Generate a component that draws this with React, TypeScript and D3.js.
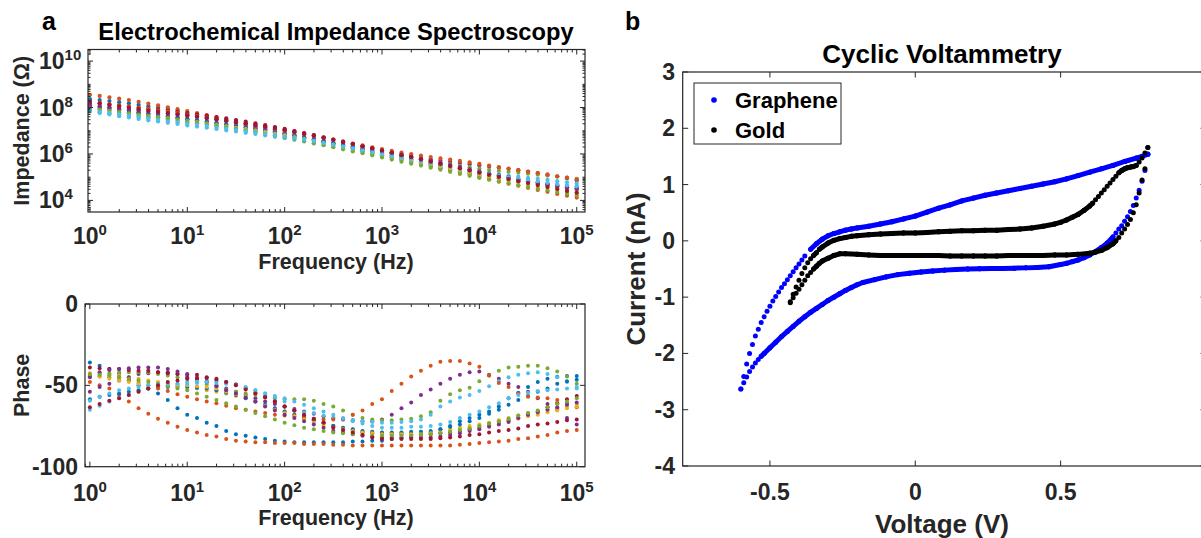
import React from 'react'
import * as d3 from 'd3'

const FONT = '"Liberation Sans", Arial, Helvetica, sans-serif'
const AXIS = '#262626'
const MATLAB = ['#0072BD', '#D95319', '#EDB120', '#7E2F8E', '#77AC30', '#4DBEEE', '#A2142F']

// ---------- EIS data ----------
const frequency = [
  1, 1.259, 1.585, 1.995, 2.512, 3.162, 3.981, 5.012, 6.31, 7.943,
  10, 12.59, 15.85, 19.95, 25.12, 31.62, 39.81, 50.12, 63.1, 79.43,
  100, 125.9, 158.5, 199.5, 251.2, 316.2, 398.1, 501.2, 631, 794.3,
  1000, 1259, 1585, 1995, 2512, 3162, 3981, 5012, 6310, 7943,
  10000, 12590, 15850, 19950, 25120, 31620, 39810, 50120, 63100, 79430, 100000,
]

// log10 |Z| (ohm)
const impedance1 = [8.36, 8.32, 8.28, 8.23, 8.18, 8.12, 8.06, 8.00, 7.93, 7.85, 7.77, 7.69, 7.60, 7.51, 7.42, 7.33, 7.24, 7.15, 7.06, 6.97, 6.88, 6.79, 6.69, 6.60, 6.50, 6.41, 6.31, 6.22, 6.12, 6.03, 5.94, 5.85, 5.76, 5.67, 5.58, 5.49, 5.41, 5.33, 5.25, 5.17, 5.09, 5.02, 4.95, 4.88, 4.82, 4.76, 4.71, 4.66, 4.61, 4.56, 4.51]
const impedance2 = [8.55, 8.50, 8.44, 8.38, 8.32, 8.25, 8.17, 8.09, 8.01, 7.93, 7.85, 7.76, 7.67, 7.58, 7.49, 7.39, 7.30, 7.20, 7.11, 7.01, 6.92, 6.82, 6.73, 6.63, 6.53, 6.44, 6.34, 6.25, 6.15, 6.05, 5.96, 5.86, 5.77, 5.67, 5.57, 5.48, 5.38, 5.29, 5.19, 5.10, 5.00, 4.91, 4.81, 4.72, 4.63, 4.54, 4.45, 4.37, 4.28, 4.20, 4.12]
const impedance3 = [8.05, 8.00, 7.95, 7.90, 7.85, 7.80, 7.74, 7.69, 7.64, 7.58, 7.53, 7.47, 7.41, 7.35, 7.29, 7.22, 7.16, 7.09, 7.02, 6.95, 6.88, 6.80, 6.72, 6.64, 6.56, 6.48, 6.39, 6.31, 6.23, 6.14, 6.06, 5.97, 5.88, 5.79, 5.71, 5.62, 5.53, 5.45, 5.36, 5.28, 5.19, 5.11, 5.03, 4.95, 4.87, 4.80, 4.72, 4.65, 4.57, 4.50, 4.43]
const impedance4 = [8.00, 7.95, 7.90, 7.85, 7.80, 7.75, 7.70, 7.65, 7.60, 7.55, 7.50, 7.45, 7.39, 7.33, 7.27, 7.21, 7.15, 7.09, 7.02, 6.95, 6.88, 6.80, 6.72, 6.64, 6.56, 6.48, 6.40, 6.32, 6.24, 6.17, 6.10, 6.03, 5.96, 5.89, 5.83, 5.77, 5.71, 5.66, 5.61, 5.56, 5.51, 5.46, 5.41, 5.36, 5.30, 5.24, 5.18, 5.11, 5.03, 4.95, 4.86]
const impedance5 = [7.85, 7.80, 7.75, 7.70, 7.66, 7.61, 7.56, 7.52, 7.47, 7.42, 7.37, 7.32, 7.27, 7.21, 7.16, 7.10, 7.04, 6.98, 6.92, 6.86, 6.80, 6.73, 6.67, 6.60, 6.53, 6.46, 6.39, 6.31, 6.24, 6.16, 6.08, 6.00, 5.92, 5.84, 5.77, 5.69, 5.62, 5.55, 5.49, 5.43, 5.37, 5.32, 5.27, 5.23, 5.19, 5.15, 5.11, 5.07, 5.03, 4.98, 4.93]
const impedance6 = [7.83, 7.76, 7.70, 7.63, 7.57, 7.51, 7.45, 7.40, 7.34, 7.29, 7.23, 7.18, 7.13, 7.08, 7.02, 6.97, 6.91, 6.86, 6.80, 6.74, 6.68, 6.61, 6.54, 6.46, 6.39, 6.31, 6.23, 6.16, 6.08, 6.00, 5.93, 5.85, 5.77, 5.70, 5.62, 5.55, 5.48, 5.42, 5.35, 5.29, 5.23, 5.17, 5.12, 5.07, 5.02, 4.97, 4.93, 4.88, 4.83, 4.78, 4.73]
const impedance7 = [8.20, 8.16, 8.12, 8.08, 8.04, 8.00, 7.95, 7.91, 7.86, 7.81, 7.76, 7.71, 7.65, 7.59, 7.53, 7.46, 7.39, 7.32, 7.24, 7.16, 7.08, 6.99, 6.90, 6.81, 6.72, 6.62, 6.53, 6.44, 6.34, 6.25, 6.15, 6.06, 5.96, 5.87, 5.77, 5.68, 5.58, 5.49, 5.40, 5.31, 5.22, 5.13, 5.05, 4.97, 4.89, 4.82, 4.75, 4.68, 4.62, 4.56, 4.50]
const impedance8 = [8.10, 8.04, 7.98, 7.92, 7.86, 7.80, 7.74, 7.68, 7.62, 7.56, 7.50, 7.44, 7.38, 7.32, 7.26, 7.20, 7.13, 7.06, 6.99, 6.92, 6.85, 6.77, 6.69, 6.61, 6.53, 6.45, 6.36, 6.28, 6.19, 6.11, 6.03, 5.94, 5.85, 5.77, 5.68, 5.60, 5.52, 5.44, 5.36, 5.28, 5.20, 5.12, 5.05, 4.98, 4.91, 4.84, 4.78, 4.72, 4.67, 4.62, 4.58]
const impedance9 = [8.25, 8.20, 8.15, 8.09, 8.04, 7.98, 7.93, 7.87, 7.82, 7.76, 7.70, 7.64, 7.57, 7.50, 7.43, 7.36, 7.29, 7.22, 7.15, 7.07, 7.00, 6.92, 6.85, 6.77, 6.69, 6.61, 6.53, 6.45, 6.37, 6.29, 6.21, 6.13, 6.06, 5.99, 5.93, 5.87, 5.81, 5.76, 5.70, 5.64, 5.57, 5.50, 5.43, 5.37, 5.30, 5.23, 5.17, 5.11, 5.04, 4.98, 4.91]
const impedance10 = [7.95, 7.90, 7.85, 7.79, 7.74, 7.69, 7.63, 7.58, 7.53, 7.47, 7.42, 7.37, 7.31, 7.25, 7.19, 7.13, 7.07, 7.01, 6.94, 6.87, 6.80, 6.72, 6.64, 6.56, 6.47, 6.39, 6.31, 6.22, 6.14, 6.05, 5.97, 5.88, 5.79, 5.71, 5.62, 5.53, 5.45, 5.36, 5.27, 5.19, 5.10, 5.02, 4.93, 4.85, 4.77, 4.70, 4.62, 4.55, 4.48, 4.41, 4.34]
const impedance11 = [8.10, 8.05, 8.01, 7.96, 7.92, 7.87, 7.83, 7.78, 7.74, 7.69, 7.65, 7.60, 7.54, 7.48, 7.42, 7.36, 7.30, 7.23, 7.16, 7.09, 7.02, 6.94, 6.86, 6.77, 6.69, 6.60, 6.51, 6.42, 6.33, 6.24, 6.15, 6.06, 5.97, 5.88, 5.79, 5.70, 5.61, 5.52, 5.43, 5.34, 5.25, 5.16, 5.08, 5.00, 4.92, 4.84, 4.77, 4.70, 4.63, 4.56, 4.50]
const impedance12 = [7.95, 7.90, 7.85, 7.79, 7.74, 7.69, 7.63, 7.58, 7.53, 7.47, 7.42, 7.36, 7.30, 7.23, 7.16, 7.09, 7.02, 6.95, 6.87, 6.80, 6.72, 6.64, 6.55, 6.46, 6.38, 6.29, 6.20, 6.11, 6.03, 5.94, 5.85, 5.76, 5.67, 5.58, 5.50, 5.41, 5.32, 5.23, 5.14, 5.06, 4.97, 4.89, 4.81, 4.73, 4.65, 4.58, 4.50, 4.43, 4.36, 4.29, 4.22]
const impedance13 = [7.90, 7.83, 7.77, 7.71, 7.65, 7.59, 7.53, 7.47, 7.41, 7.36, 7.30, 7.25, 7.20, 7.14, 7.09, 7.03, 6.98, 6.92, 6.87, 6.81, 6.75, 6.69, 6.62, 6.55, 6.48, 6.40, 6.32, 6.24, 6.16, 6.08, 6.00, 5.92, 5.84, 5.76, 5.68, 5.60, 5.52, 5.44, 5.36, 5.28, 5.20, 5.13, 5.06, 4.99, 4.93, 4.86, 4.80, 4.75, 4.70, 4.65, 4.60]
const impedance14 = [8.25, 8.18, 8.12, 8.05, 7.99, 7.93, 7.87, 7.82, 7.76, 7.71, 7.66, 7.61, 7.55, 7.50, 7.44, 7.38, 7.32, 7.26, 7.19, 7.12, 7.05, 6.97, 6.88, 6.80, 6.71, 6.62, 6.52, 6.43, 6.33, 6.24, 6.14, 6.05, 5.95, 5.86, 5.76, 5.67, 5.57, 5.48, 5.38, 5.29, 5.19, 5.10, 5.01, 4.92, 4.83, 4.75, 4.66, 4.58, 4.49, 4.41, 4.33]

// phase (degrees)
const phase1 = [-36, -38, -40, -43, -47, -50, -52, -55, -59, -64, -68, -70, -73, -75, -78, -80, -81, -82, -83, -84, -84.5, -85, -85, -85, -85, -85, -85, -84.5, -84.5, -84, -84, -83, -82.5, -81.5, -80.5, -79, -77, -75, -72, -70, -68, -66, -63, -58, -54.5, -51, -48, -46, -44.7, -44.3, -44.3]
const phase2 = [-48, -50, -52, -56, -60, -64, -67.5, -70.5, -73, -75.5, -77.5, -79, -80.5, -81.5, -83, -84, -84.5, -85, -85, -85.5, -85.5, -85.5, -86, -86, -86, -86.5, -86.5, -87, -87, -87, -87, -87, -87, -87, -87, -87, -87, -87, -86.5, -86, -85.5, -85, -84.5, -84, -83, -82.5, -81.5, -80.5, -79, -78, -77.5]
const phase3 = [-42.5, -43, -43.5, -44, -45, -46, -47, -48, -49, -50, -51, -52, -53, -54, -55, -56.5, -58, -60, -62, -64, -66, -68, -70, -71.5, -73, -75, -76, -77, -78, -78.5, -79, -79, -79, -79, -78.5, -78.5, -78, -77, -76, -75, -74, -73, -71.5, -70, -68.5, -67, -66, -65, -64, -63, -62]
const phase4 = [-54, -51, -49, -47, -45, -43, -42.5, -42, -42, -43, -45, -46.5, -48, -50, -52, -54, -56, -58, -60, -61.5, -63, -64.5, -66, -67.5, -69, -70, -71, -71.5, -72, -72, -71, -68, -64, -60.5, -56, -52.5, -49, -46, -43.5, -42, -41.5, -43.5, -46, -49, -51, -54, -58, -61.5, -65, -70, -74]
const phase5 = [-44, -43, -42.5, -42, -42, -42, -42, -43, -44, -45, -46, -48, -49.5, -51, -52.5, -54, -55, -56, -57, -58, -58.5, -58.5, -58.5, -59.5, -61.5, -63, -65.5, -68, -70, -71, -71.5, -71.5, -71, -70.5, -69, -66.5, -59.5, -55.5, -53, -51.5, -47.5, -44, -41, -39, -38.5, -38, -38, -39.5, -41.5, -44.5, -49]
const phase6 = [-65, -62.5, -60, -58, -56, -54, -52, -51, -50, -49, -48, -47.5, -47, -47.5, -48.5, -49.5, -51, -53, -55, -57.5, -60, -65.5, -66.5, -67, -68.5, -70, -71, -71.5, -72, -72.5, -73, -73, -72.5, -72, -71, -68, -63, -60, -57.5, -56, -53.5, -50.5, -47.5, -45, -43.5, -42.5, -42, -43, -45, -48, -51]
const phase7 = [-39, -39.5, -40, -40, -40.5, -41, -41, -42, -42.5, -43, -43.5, -43.5, -45, -46.5, -48, -49.5, -52, -54.5, -57, -60, -63, -65.5, -68.5, -71, -73, -75, -77, -78, -79, -79.5, -80, -80, -80, -80, -80, -80, -79.5, -79, -78, -77, -76, -74.5, -73, -71.5, -70, -68, -66, -63.5, -61, -58.5, -56.5]
const phase8 = [-58.5, -57, -56, -55, -54, -53, -52, -51.5, -51, -51, -51, -51.5, -52, -53, -54.5, -56, -58, -60, -62, -64, -66, -68, -70, -71.5, -73, -75, -76, -77, -78, -78.5, -79, -79, -79, -78.5, -78.5, -78, -77, -75.5, -74, -72, -70, -67.5, -65, -62, -59, -56.5, -54, -52, -49, -47.5, -46.5]
const phase9 = [-44.5, -44.5, -45, -45, -47, -48.5, -50, -52, -53.5, -55.5, -57, -58.5, -60, -61, -62.5, -64, -65, -66, -67, -68, -68.5, -69, -69.5, -70.5, -71, -71, -70.5, -68, -65.5, -61.5, -58.5, -53.5, -49, -44.5, -41, -38, -35.5, -35, -35, -36.5, -38.5, -44, -48.5, -51, -55, -57, -57.5, -58, -59, -61, -63.5]
const phase10 = [-43, -44.5, -46, -47, -48, -49, -50, -50, -50, -50, -50, -50.5, -51, -52, -54, -55.5, -57, -60, -62.5, -65, -67, -69, -71, -73, -74.5, -76, -77, -78, -79, -79.5, -80, -80, -80, -80, -80, -79.5, -79, -78, -77, -76, -75, -74, -73, -72, -70.5, -69, -68, -66.5, -65.5, -64, -63]
const phase11 = [-45, -42, -40.5, -40, -39.5, -39, -39, -39, -40, -41.5, -43, -45.5, -48, -50.5, -53, -55, -57.5, -60, -63, -65.5, -68, -70, -72, -74, -76, -78, -79, -80, -81, -81.5, -82, -82, -82, -82, -82, -82, -81.5, -80.5, -79.5, -78, -77, -75.5, -74, -72.5, -70, -68, -66.5, -65, -63.5, -62, -60.5]
const phase12 = [-43, -43.5, -44, -45, -46, -47, -48, -49, -50.5, -52, -53, -55, -57, -59, -61, -63, -65, -67, -69, -71, -73, -74.5, -76, -77, -78, -79, -79.5, -80, -80.5, -81, -81, -81, -81, -81, -80.5, -80, -79.5, -78.5, -77.5, -76.5, -75, -73.5, -72, -70.5, -68.5, -67, -65.5, -63.5, -61.5, -60, -58]
const phase13 = [-59.5, -57, -55, -53, -52, -51, -50, -49.5, -49, -49, -49, -48.5, -48, -48.5, -49, -50, -51.5, -53, -55, -56.5, -58, -60, -62, -64, -66, -68, -70, -72, -73.5, -75, -76, -76, -76, -75.5, -75.5, -75, -74, -72.5, -70, -68, -66, -63.5, -61, -58, -56, -54.5, -53.5, -53, -52.5, -52, -52]
const phase14 = [-63.5, -61.5, -59.5, -58, -56, -54, -52, -50, -48, -47, -46, -45.5, -45.5, -46, -48, -50, -52.5, -55, -57.5, -60, -63, -65.5, -68, -70.5, -73, -76, -77.5, -79, -80.5, -82, -83, -83, -83, -83, -83, -83, -82.5, -82, -81.5, -80.5, -80, -79, -78, -77.5, -76.5, -75, -74, -73.5, -72.5, -71.5, -71]

const impedanceSeries = [impedance1, impedance2, impedance3, impedance4, impedance5, impedance6, impedance7, impedance8, impedance9, impedance10, impedance11, impedance12, impedance13, impedance14]
const phaseSeries = [phase1, phase2, phase3, phase4, phase5, phase6, phase7, phase8, phase9, phase10, phase11, phase12, phase13, phase14]

// ---------- CV data: [voltage V, current nA] ----------
const grapheneForward = [[-0.60, -2.63], [-0.59, -2.41], [-0.58, -2.19], [-0.57, -2.00], [-0.56, -1.84], [-0.55, -1.69], [-0.54, -1.57], [-0.53, -1.45], [-0.52, -1.35], [-0.51, -1.25], [-0.50, -1.16], [-0.49, -1.07], [-0.48, -0.99], [-0.47, -0.91], [-0.46, -0.83], [-0.45, -0.76], [-0.44, -0.69], [-0.43, -0.62], [-0.42, -0.55], [-0.41, -0.48], [-0.40, -0.41], [-0.39, -0.34], [-0.38, -0.27], [-0.36, -0.15], [-0.34, -0.05], [-0.32, 0.03], [-0.30, 0.09], [-0.28, 0.13], [-0.26, 0.16], [-0.24, 0.19], [-0.22, 0.21], [-0.20, 0.23], [-0.16, 0.26], [-0.12, 0.30], [-0.08, 0.34], [-0.04, 0.39], [0.00, 0.44], [0.04, 0.51], [0.08, 0.58], [0.12, 0.64], [0.16, 0.71], [0.20, 0.76], [0.24, 0.81], [0.28, 0.85], [0.32, 0.89], [0.36, 0.93], [0.40, 0.97], [0.44, 1.01], [0.48, 1.05], [0.52, 1.10], [0.56, 1.16], [0.60, 1.22], [0.64, 1.28], [0.68, 1.34], [0.72, 1.41], [0.76, 1.47], [0.78, 1.50], [0.80, 1.54]]
const grapheneReverse = [[0.80, 1.54], [0.79, 1.25], [0.78, 1.06], [0.77, 0.90], [0.76, 0.76], [0.75, 0.63], [0.74, 0.52], [0.73, 0.43], [0.72, 0.35], [0.71, 0.27], [0.70, 0.21], [0.69, 0.14], [0.68, 0.07], [0.66, -0.04], [0.64, -0.12], [0.62, -0.19], [0.60, -0.25], [0.58, -0.30], [0.56, -0.34], [0.54, -0.37], [0.52, -0.40], [0.50, -0.42], [0.46, -0.46], [0.42, -0.475], [0.38, -0.48], [0.34, -0.485], [0.30, -0.49], [0.26, -0.49], [0.22, -0.495], [0.18, -0.50], [0.14, -0.51], [0.10, -0.52], [0.06, -0.535], [0.02, -0.555], [-0.02, -0.575], [-0.06, -0.60], [-0.10, -0.64], [-0.14, -0.69], [-0.18, -0.74], [-0.20, -0.78], [-0.22, -0.83], [-0.24, -0.88], [-0.26, -0.94], [-0.28, -1.00], [-0.30, -1.06], [-0.32, -1.13], [-0.34, -1.20], [-0.36, -1.27], [-0.38, -1.35], [-0.40, -1.43], [-0.42, -1.52], [-0.44, -1.61], [-0.46, -1.70], [-0.48, -1.80], [-0.50, -1.90], [-0.52, -2.00], [-0.53, -2.05], [-0.54, -2.11], [-0.55, -2.17], [-0.56, -2.24], [-0.57, -2.32], [-0.58, -2.42], [-0.59, -2.52], [-0.60, -2.63]]
const goldForward = [[-0.43, -1.10], [-0.42, -0.95], [-0.41, -0.82], [-0.40, -0.70], [-0.39, -0.58], [-0.38, -0.48], [-0.37, -0.39], [-0.36, -0.32], [-0.35, -0.26], [-0.34, -0.21], [-0.33, -0.15], [-0.32, -0.11], [-0.30, -0.04], [-0.28, 0.01], [-0.26, 0.04], [-0.24, 0.06], [-0.22, 0.08], [-0.20, 0.09], [-0.16, 0.11], [-0.12, 0.12], [-0.08, 0.13], [-0.04, 0.14], [0.00, 0.14], [0.04, 0.15], [0.08, 0.16], [0.12, 0.17], [0.16, 0.18], [0.20, 0.18], [0.24, 0.19], [0.28, 0.19], [0.32, 0.20], [0.36, 0.21], [0.40, 0.23], [0.44, 0.26], [0.48, 0.30], [0.50, 0.33], [0.52, 0.37], [0.54, 0.42], [0.56, 0.47], [0.58, 0.54], [0.60, 0.62], [0.61, 0.67], [0.62, 0.73], [0.63, 0.79], [0.64, 0.85], [0.65, 0.91], [0.66, 0.97], [0.67, 1.03], [0.68, 1.09], [0.69, 1.15], [0.70, 1.21], [0.71, 1.25], [0.72, 1.28], [0.73, 1.30], [0.74, 1.31], [0.75, 1.32], [0.76, 1.34], [0.77, 1.40], [0.78, 1.47], [0.79, 1.56], [0.80, 1.66]]
const goldReverse = [[0.80, 1.66], [0.79, 1.28], [0.78, 1.08], [0.77, 0.85], [0.76, 0.64], [0.75, 0.50], [0.74, 0.38], [0.73, 0.29], [0.72, 0.21], [0.71, 0.14], [0.70, 0.06], [0.69, 0.00], [0.68, -0.05], [0.66, -0.12], [0.64, -0.17], [0.62, -0.20], [0.60, -0.22], [0.56, -0.24], [0.52, -0.25], [0.48, -0.25], [0.44, -0.26], [0.40, -0.26], [0.36, -0.26], [0.32, -0.26], [0.28, -0.27], [0.24, -0.27], [0.20, -0.27], [0.16, -0.27], [0.12, -0.27], [0.08, -0.26], [0.04, -0.26], [0.00, -0.26], [-0.04, -0.26], [-0.08, -0.26], [-0.12, -0.26], [-0.16, -0.25], [-0.20, -0.24], [-0.24, -0.23], [-0.26, -0.23], [-0.28, -0.26], [-0.30, -0.31], [-0.32, -0.36], [-0.33, -0.40], [-0.34, -0.45], [-0.35, -0.50], [-0.36, -0.56], [-0.37, -0.62], [-0.38, -0.70], [-0.39, -0.78], [-0.40, -0.86], [-0.41, -0.93], [-0.42, -1.01], [-0.43, -1.08]]

const decades = [0, 1, 2, 3, 4, 5]
const impedanceDecades = [4, 6, 8, 10]
const phaseTicks = [-100, -50, 0]
const voltageTicks = [-0.5, 0, 0.5]
const currentTicks = [-4, -3, -2, -1, 0, 1, 2, 3]

// ---------- layout ----------
const W = 1201
const H = 538
const top = { left: 88, right: 585, top: 49.5, bottom: 212 }
const bot = { left: 85, right: 585, top: 304, bottom: 466.7 }
const cv = { left: 682.7, right: 1206, top: 72, bottom: 466 }

const xTop = d3.scaleLog().domain([10 ** -0.02, 10 ** 5.085]).range([top.left, top.right])
const yTop = d3.scaleLog().domain([10 ** 3.5, 10 ** 10.5]).range([top.bottom, top.top])
const xBot = d3.scaleLog().domain([10 ** -0.05, 10 ** 5.085]).range([bot.left, bot.right])
const yBot = d3.scaleLinear().domain([-100, 0]).range([bot.bottom, bot.top])
const xCv = d3.scaleLinear().domain([-0.8, 1.0]).range([cv.left, cv.right])
const yCv = d3.scaleLinear().domain([-4, 3]).range([cv.bottom, cv.top])

function logTicks(lo, hi, isMajor) {
  const out = []
  for (let d = Math.floor(Math.log10(lo)); d <= Math.ceil(Math.log10(hi)); d++) {
    for (let k = 1; k <= 9; k++) {
      const v = k * 10 ** d
      if (v >= lo && v <= hi) out.push({ v, major: isMajor(k, d) })
    }
  }
  return out
}

const Frame = ({ b }) => (
  <rect x={b.left} y={b.top} width={b.right - b.left} height={b.bottom - b.top}
    fill="none" stroke={AXIS} strokeWidth={1.2} />
)

const XTicks = ({ b, pos }) => (
  <g stroke={AXIS} strokeWidth={1}>
    {pos.map((p, i) => (
      <g key={i}>
        <line x1={p.x} x2={p.x} y1={b.bottom} y2={b.bottom - p.len} />
        <line x1={p.x} x2={p.x} y1={b.top} y2={b.top + p.len} />
      </g>
    ))}
  </g>
)

const YTicks = ({ b, pos }) => (
  <g stroke={AXIS} strokeWidth={1}>
    {pos.map((p, i) => (
      <g key={i}>
        <line y1={p.y} y2={p.y} x1={b.left} x2={b.left + p.len} />
        <line y1={p.y} y2={p.y} x1={b.right} x2={b.right - p.len} />
      </g>
    ))}
  </g>
)

const Pow = ({ x, y, exp, anchor }) => (
  <text x={x} y={y} textAnchor={anchor} fontSize={23} fontWeight="bold" fill={AXIS}>
    10<tspan dy={-9} fontSize={15}>{exp}</tspan>
  </text>
)

// dots of a CV branch, joined where the instrument's 10 mV steps would overlap
function Branch({ pts, color }) {
  const p = pts.map(([v, i]) => [xCv(v), yCv(i)])
  const segs = []
  for (let k = 1; k < pts.length; k++) {
    const steps = Math.round(Math.abs(pts[k][0] - pts[k - 1][0]) / 0.01)
    const dist = Math.hypot(p[k][0] - p[k - 1][0], p[k][1] - p[k - 1][1])
    if (dist / Math.max(steps, 1) < 4.4) segs.push([p[k - 1], p[k]])
  }
  return (
    <g fill={color} stroke={color}>
      {segs.map((s, k) => (
        <line key={'s' + k} x1={s[0][0]} y1={s[0][1]} x2={s[1][0]} y2={s[1][1]} strokeWidth={5} strokeLinecap="round" />
      ))}
      {p.map((q, k) => <circle key={k} cx={q[0]} cy={q[1]} r={2.5} stroke="none" />)}
    </g>
  )
}

export default function App() {
  const topX = logTicks(10 ** -0.02, 10 ** 5.085, (k) => k === 1).map((t) => ({ x: xTop(t.v), len: t.major ? 5 : 3 }))
  const botX = logTicks(10 ** -0.05, 10 ** 5.085, (k) => k === 1).map((t) => ({ x: xBot(t.v), len: t.major ? 5 : 3 }))
  const topY = logTicks(10 ** 3.5, 10 ** 10.5, (k, d) => k === 1 && d % 2 === 0).map((t) => ({ y: yTop(t.v), len: t.major ? 5 : 2.5 }))
  const botY = phaseTicks.map((v) => ({ y: yBot(v), len: 5 }))
  const cvX = voltageTicks.map((v) => ({ x: xCv(v), len: 5.5 }))
  const cvY = currentTicks.map((v) => ({ y: yCv(v), len: 5.5 }))

  return (
    <div style={{ position: 'absolute', left: 0, top: 0 }}>
      <svg width={W} height={H} style={{ display: 'block', background: '#fff' }} fontFamily={FONT}>
        {/* panel labels */}
        <text x={42} y={30} fontSize={25} fontWeight="bold">a</text>
        <text x={625} y={30} fontSize={25} fontWeight="bold">b</text>

        {/* ---- impedance ---- */}
        <text x={336} y={40} fontSize={23.7} fontWeight="bold" textAnchor="middle">Electrochemical Impedance Spectroscopy</text>
        <g>
          {impedanceSeries.map((s, si) => (
            <g key={si} fill={MATLAB[si % 7]}>
              {s.map((z, i) => <circle key={i} cx={xTop(frequency[i])} cy={yTop(10 ** z)} r={2.1} />)}
            </g>
          ))}
        </g>
        <Frame b={top} />
        <XTicks b={top} pos={topX} />
        <YTicks b={top} pos={topY} />
        {decades.map((d) => <Pow key={d} x={xTop(10 ** d)} y={top.bottom + 32} exp={d} anchor="middle" />)}
        {impedanceDecades.map((d) => <Pow key={d} x={39} y={yTop(10 ** d) + 8} exp={d} anchor="start" />)}
        <text x={336} y={top.bottom + 57} fontSize={21.5} fontWeight="bold" fill={AXIS} textAnchor="middle">Frequency (Hz)</text>
        <text transform={`translate(29,${(top.top + top.bottom) / 2}) rotate(-90)`} fontSize={21.5} fontWeight="bold" fill={AXIS} textAnchor="middle">Impedance (Ω)</text>

        {/* ---- phase ---- */}
        <g>
          {phaseSeries.map((s, si) => (
            <g key={si} fill={MATLAB[si % 7]}>
              {s.map((p, i) => <circle key={i} cx={xBot(frequency[i])} cy={yBot(p)} r={2} />)}
            </g>
          ))}
        </g>
        <Frame b={bot} />
        <XTicks b={bot} pos={botX} />
        <YTicks b={bot} pos={botY} />
        {decades.map((d) => <Pow key={d} x={xBot(10 ** d)} y={bot.bottom + 34} exp={d} anchor="middle" />)}
        {phaseTicks.map((v) => (
          <text key={v} x={78} y={yBot(v) + 8} fontSize={23} fontWeight="bold" fill={AXIS} textAnchor="end">{v}</text>
        ))}
        <text x={336} y={bot.bottom + 58} fontSize={21.5} fontWeight="bold" fill={AXIS} textAnchor="middle">Frequency (Hz)</text>
        <text transform={`translate(29,${(bot.top + bot.bottom) / 2}) rotate(-90)`} fontSize={21.5} fontWeight="bold" fill={AXIS} textAnchor="middle">Phase</text>

        {/* ---- cyclic voltammetry ---- */}
        <text x={942} y={63} fontSize={26} fontWeight="bold" textAnchor="middle">Cyclic Voltammetry</text>
        <Branch pts={grapheneForward} color="#0000FF" />
        <Branch pts={grapheneReverse} color="#0000FF" />
        <Branch pts={goldForward} color="#000000" />
        <Branch pts={goldReverse} color="#000000" />
        <Frame b={cv} />
        <XTicks b={cv} pos={cvX} />
        <YTicks b={cv} pos={cvY} />
        {voltageTicks.map((v) => (
          <text key={v} x={xCv(v)} y={cv.bottom + 34} fontSize={23} fontWeight="bold" fill={AXIS} textAnchor="middle">{v}</text>
        ))}
        {currentTicks.map((v) => (
          <text key={v} x={675} y={yCv(v) + 8} fontSize={23} fontWeight="bold" fill={AXIS} textAnchor="end">{v}</text>
        ))}
        <text x={942} y={533} fontSize={26} fontWeight="bold" fill={AXIS} textAnchor="middle">Voltage (V)</text>
        <text transform={`translate(645,${(cv.top + cv.bottom) / 2}) rotate(-90)`} fontSize={26} fontWeight="bold" fill={AXIS} textAnchor="middle">Current (nA)</text>

        {/* legend */}
        <rect x={694} y={83} width={147} height={61} fill="#fff" stroke={AXIS} strokeWidth={1} />
        <circle cx={714} cy={100} r={2.8} fill="#0000FF" />
        <circle cx={714} cy={130} r={2.8} fill="#000" />
        <text x={735} y={108} fontSize={22} fontWeight="bold">Graphene</text>
        <text x={735} y={138} fontSize={22} fontWeight="bold">Gold</text>
      </svg>
    </div>
  )
}
